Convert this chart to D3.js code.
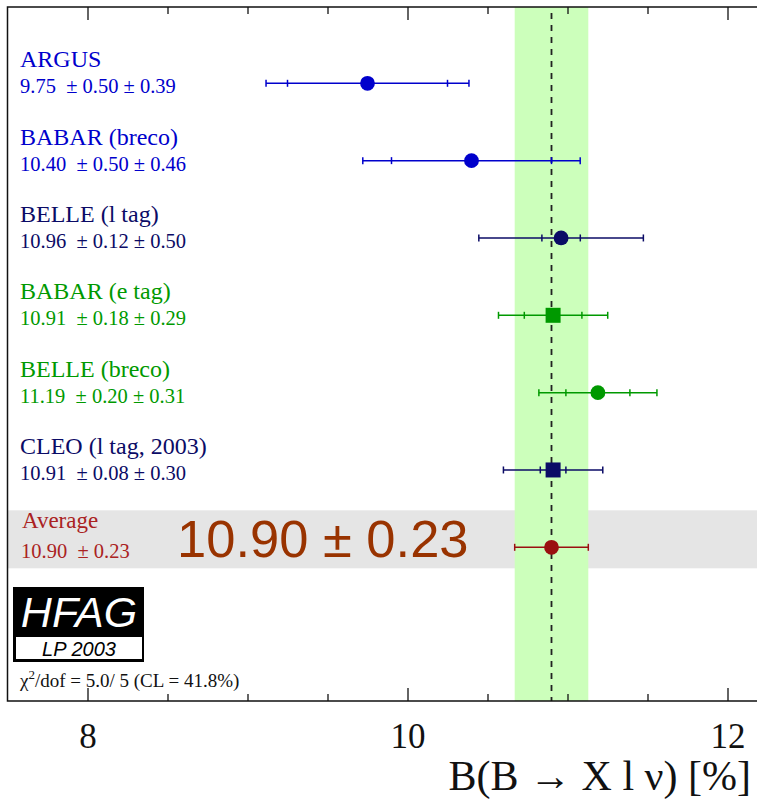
<!DOCTYPE html>
<html>
<head>
<meta charset="utf-8">
<script src="https://cdn.jsdelivr.net/npm/d3@7"></script>
<style>
  body { margin: 0; background: #fff; }
  text { white-space: pre; }
</style>
</head>
<body>
<div id="chart"></div>
<script>
// measurements of B(B -> X l nu) in percent
const experiments = ["ARGUS", "BABAR (breco)", "BELLE (l tag)", "BABAR (e tag)", "BELLE (breco)", "CLEO (l tag, 2003)"];
const centralValues = [9.75, 10.40, 10.96, 10.91, 11.19, 10.91];
const statErrors = [0.50, 0.50, 0.12, 0.18, 0.20, 0.08];
const systErrors = [0.39, 0.46, 0.50, 0.29, 0.31, 0.30];
const averageValue = 10.90;
const averageError = 0.23;
const chi2 = 5.0, ndof = 5, confLevel = 41.8;
const majorTicks = [8, 10, 12];
const minorTicks = [8.5, 9, 9.5, 10.5, 11, 11.5];

const blue = "#0000cc", navy = "#0b0b66", green = "#009900", darkRed = "#9a1010";
const styleFor = {
  "ARGUS": {color: blue, shape: "circle"},
  "BABAR (breco)": {color: blue, shape: "circle"},
  "BELLE (l tag)": {color: navy, shape: "circle"},
  "BABAR (e tag)": {color: green, shape: "square"},
  "BELLE (breco)": {color: green, shape: "circle"},
  "CLEO (l tag, 2003)": {color: navy, shape: "square"}
};

const width = 757, height = 799;
const frame = {left: 7.5, top: 7, bottom: 701};
const serif = "'Liberation Serif', 'Times New Roman', serif";
const sans = "'Liberation Sans', Arial, sans-serif";

const xScale = d3.scaleLinear().domain([7.5, 12.2]).range([frame.left, frame.left + 4.7 * 160]);
const yScale = d3.scalePoint()
  .domain([...experiments, "Average"])
  .range([83.3, 547.3]);

const fmt = d3.format(".2f");

const svg = d3.select("#chart").append("svg")
  .attr("width", width)
  .attr("height", height);

// average row background
svg.append("rect")
  .attr("x", frame.left)
  .attr("y", yScale("Average") - 37)
  .attr("width", width - frame.left)
  .attr("height", 58)
  .attr("fill", "#e5e5e5");

// average band
svg.append("rect")
  .attr("x", xScale(averageValue - averageError))
  .attr("y", frame.top)
  .attr("width", xScale(averageValue + averageError) - xScale(averageValue - averageError))
  .attr("height", frame.bottom - frame.top)
  .attr("fill", "#ccffbb");

svg.append("line")
  .attr("x1", xScale(averageValue)).attr("x2", xScale(averageValue))
  .attr("y1", frame.top + 6).attr("y2", frame.bottom)
  .attr("stroke", "#222")
  .attr("stroke-width", 1.8)
  .attr("stroke-dasharray", "6,6");

// axes
const bottomMajor = d3.axisBottom(xScale).tickValues(majorTicks).tickSize(-13).tickFormat(d3.format("d"));
const bottomMinor = d3.axisBottom(xScale).tickValues(minorTicks).tickSize(-7).tickFormat("");
const topMajor = d3.axisTop(xScale).tickValues(majorTicks).tickSize(-13).tickFormat("");
const topMinor = d3.axisTop(xScale).tickValues(minorTicks).tickSize(-7).tickFormat("");

const drawAxis = (axis, y) => {
  const g = svg.append("g")
    .attr("transform", `translate(0, ${y})`)
    .call(axis);
  g.select(".domain").remove();
  g.selectAll(".tick line").attr("stroke", "#111").attr("stroke-width", 1.3);
  return g;
};

const bottomG = drawAxis(bottomMajor, frame.bottom);
bottomG.selectAll(".tick text")
  .attr("y", 47)
  .attr("dy", 0)
  .attr("fill", "#111")
  .style("font-family", serif)
  .style("font-size", "35px");
drawAxis(bottomMinor, frame.bottom);
drawAxis(topMajor, frame.top);
drawAxis(topMinor, frame.top);

// frame
svg.append("path")
  .attr("d", `M${width + 2},${frame.top}H${frame.left}V${frame.bottom}H${width + 2}`)
  .attr("fill", "none")
  .attr("stroke", "#111")
  .attr("stroke-width", 1.5);

// error bars
const drawBar = (y, value, lo, hi, inner, color, shape) => {
  const g = svg.append("g").attr("stroke", color).attr("fill", color);
  g.append("line")
    .attr("x1", xScale(value - lo)).attr("x2", xScale(value + hi))
    .attr("y1", y).attr("y2", y)
    .attr("stroke-width", 1.5);
  const caps = [value - lo, value + hi].concat(inner ? [value - inner, value + inner] : []);
  g.selectAll("line.cap").data(caps).join("line")
    .attr("class", "cap")
    .attr("x1", d => xScale(d)).attr("x2", d => xScale(d))
    .attr("y1", y - 3.5).attr("y2", y + 3.5)
    .attr("stroke-width", 1.5);
  if (shape === "square") {
    g.append("rect")
      .attr("x", xScale(value) - 7.5).attr("y", y - 7.5)
      .attr("width", 15).attr("height", 15)
      .attr("stroke", "none");
  } else {
    g.append("circle")
      .attr("cx", xScale(value)).attr("cy", y)
      .attr("r", 7.4)
      .attr("stroke", "none");
  }
};

experiments.forEach((name, i) => {
  const y = yScale(name);
  const total = Math.sqrt(statErrors[i] ** 2 + systErrors[i] ** 2);
  const st = styleFor[name];
  drawBar(y, centralValues[i], total, total, statErrors[i], st.color, st.shape);

  svg.append("text")
    .attr("x", 20).attr("y", y - 16)
    .attr("fill", st.color)
    .style("font-family", serif)
    .style("font-size", "24px")
    .text(name);

  svg.append("text")
    .attr("x", 20).attr("y", y + 10)
    .attr("fill", st.color)
    .style("font-family", serif)
    .style("font-size", "20.5px")
    .text(`${fmt(centralValues[i])}  \u00b1 ${fmt(statErrors[i])} \u00b1 ${fmt(systErrors[i])}`);
});

// average row
const yAvg = yScale("Average");
drawBar(yAvg, averageValue, averageError, averageError, null, darkRed, "circle");

svg.append("text")
  .attr("x", 22).attr("y", yAvg - 19)
  .attr("fill", "#aa2222")
  .style("font-family", serif)
  .style("font-size", "23px")
  .text("Average");

svg.append("text")
  .attr("x", 21).attr("y", yAvg + 11)
  .attr("fill", "#aa2222")
  .style("font-family", serif)
  .style("font-size", "20.5px")
  .text(`${fmt(averageValue)}  \u00b1 ${fmt(averageError)}`);

svg.append("text")
  .attr("x", 177).attr("y", yAvg + 10)
  .attr("fill", "#993300")
  .style("font-family", sans)
  .style("font-size", "52.5px")
  .text(`${fmt(averageValue)} \u00b1 ${fmt(averageError)}`);

// HFAG logo
const logo = svg.append("g").attr("transform", "translate(13, 587)");
logo.append("rect")
  .attr("width", 131).attr("height", 75)
  .attr("fill", "#000");
logo.append("rect")
  .attr("x", 3).attr("y", 50)
  .attr("width", 126).attr("height", 22)
  .attr("fill", "#fff");
logo.append("text")
  .attr("x", 66).attr("y", 40)
  .attr("text-anchor", "middle")
  .attr("fill", "#fff")
  .style("font-family", sans)
  .style("font-style", "italic")
  .style("font-size", "43px")
  .text("HFAG");
logo.append("text")
  .attr("x", 66).attr("y", 69)
  .attr("text-anchor", "middle")
  .attr("fill", "#000")
  .style("font-family", sans)
  .style("font-style", "italic")
  .style("font-size", "20px")
  .text("LP 2003");

const chiText = svg.append("text")
  .attr("x", 20).attr("y", 687)
  .attr("fill", "#111")
  .style("font-family", serif)
  .style("font-size", "19px");
chiText.append("tspan").text("\u03c7");
chiText.append("tspan").attr("dy", -8).style("font-size", "13px").text("2");
chiText.append("tspan").attr("dy", 8).text(`/dof = ${chi2.toFixed(1)}/ ${ndof} (CL = ${confLevel.toFixed(1)}%)`);

// axis title
svg.append("text")
  .attr("x", 751).attr("y", 790)
  .attr("text-anchor", "end")
  .attr("fill", "#111")
  .style("font-family", serif)
  .style("font-size", "42px")
  .text("B(B \u2192 X l \u03bd) [%]");
</script>
</body>
</html>
